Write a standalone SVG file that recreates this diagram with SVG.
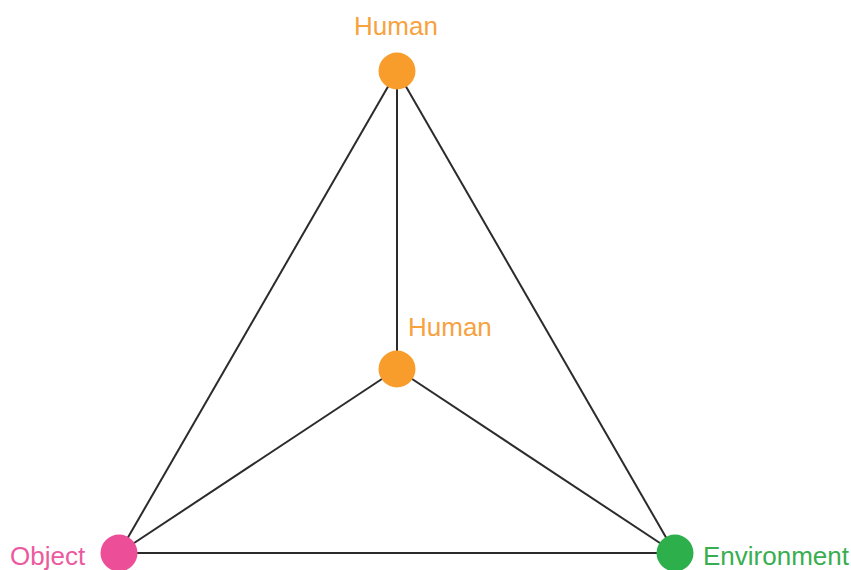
<svg xmlns="http://www.w3.org/2000/svg" width="851" height="570" viewBox="0 0 851 570">
<style>
.edge{stroke:#2b2b2b;stroke-width:2;fill:none}
.lbl{font-family:"Liberation Sans",Arial,sans-serif;font-size:26px}
.human{fill:#f89c2c}
.human-t{fill:#f7a23e}
</style>
<rect width="851" height="570" fill="#ffffff"/>
<g id="connectors">
<line class="edge" x1="397" y1="71" x2="119" y2="553"/>
<line class="edge" x1="397" y1="71" x2="675" y2="553"/>
<line class="edge" x1="397" y1="71" x2="397" y2="369"/>
<line class="edge" x1="397" y1="369" x2="119" y2="553"/>
<line class="edge" x1="397" y1="369" x2="675" y2="553"/>
<line class="edge" x1="119" y1="553" x2="675" y2="553"/>
</g>
<g id="human-top">
<circle class="human" cx="397" cy="71" r="18.5"/>
<text class="lbl human-t" x="396" y="35" text-anchor="middle">Human</text>
</g>
<g id="human-mid">
<circle class="human" cx="397" cy="369" r="18.5"/>
<text class="lbl human-t" x="408" y="336">Human</text>
</g>
<g id="object">
<circle cx="119" cy="553" r="18.5" fill="#ec4f98"/>
<text class="lbl" x="10" y="565" fill="#ec5a9e">Object</text>
</g>
<g id="environment">
<circle cx="675" cy="553" r="18.5" fill="#2db04b"/>
<text class="lbl" x="703" y="565" fill="#38ae50">Environment</text>
</g>
</svg>
